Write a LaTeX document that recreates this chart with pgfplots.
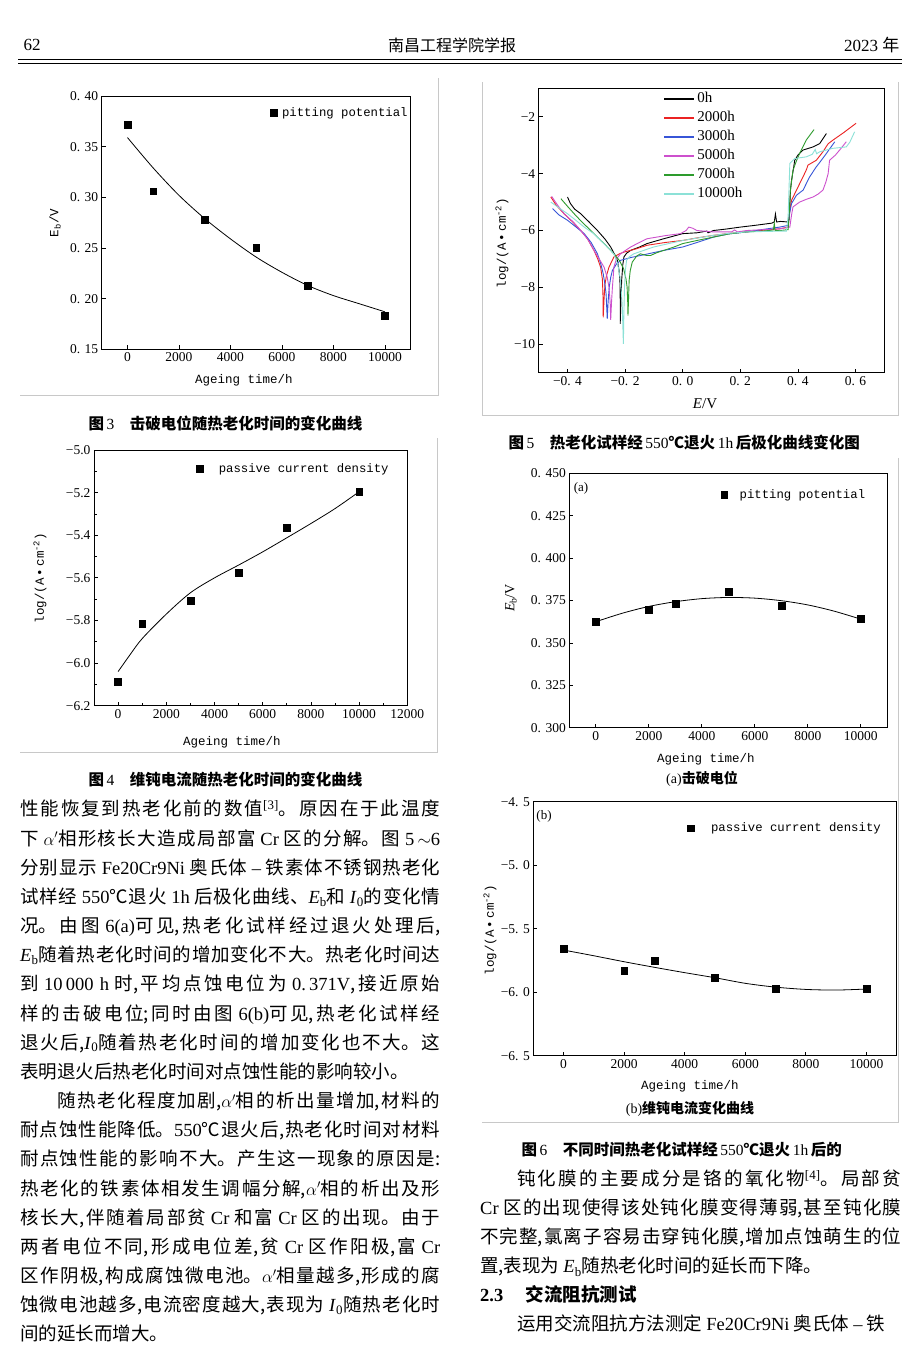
\documentclass[border=0pt]{standalone}
\usepackage{fontspec}
\usepackage{pgfplots}
\pgfplotsset{compat=1.18}
\setmainfont{Liberation Serif}
\newfontfamily\cjk{Noto Sans CJK SC}
\newfontfamily\mono{Liberation Mono}
\XeTeXlinebreaklocale "zh"
\XeTeXlinebreakskip=0pt plus 4pt
\definecolor{cred}{RGB}{235,35,35}
\definecolor{cblue}{RGB}{55,85,215}
\definecolor{cmag}{RGB}{205,80,205}
\definecolor{cgreen}{RGB}{45,155,45}
\definecolor{ccyan}{RGB}{140,225,215}
\definecolor{framegray}{RGB}{200,200,200}
\newcommand\lat[1]{{\rmfamily #1}}
\pgfplotsset{pagestyle/.style={scale only axis, anchor=south west,
  axis line style={line width=0.9pt}, tick align=inside, tick pos=left,
  major tick length=4pt, minor tick length=2.5pt, scaled ticks=false,
  every tick/.style={black, line width=0.8pt},
  tick label style={font=\rmfamily\fontsize{13.5}{13.5}\selectfont},
  /pgf/number format/assume math mode=true},
  marklegend/.style={legend style={draw=none, fill=none, anchor=west,
    font=\mono\fontsize{12.3}{12.3}\selectfont, inner sep=0pt, nodes={inner sep=2pt}},
    legend image code/.code={\draw[##1] plot coordinates {(3pt,0pt)};}}}
\begin{document}
\begin{tikzpicture}
\path[use as bounding box, fill=white] (0pt,0pt) rectangle (920pt,-1361pt);
% header
\node[anchor=west, font=\fontsize{17}{17}\selectfont] at (20pt,-45pt) {62};
\node[font=\cjk\fontsize{16}{16}\selectfont] at (452pt,-45pt) {南昌工程学院学报};
\node[anchor=east, font=\fontsize{17}{17}\selectfont] at (903pt,-45pt) {2023 {\cjk 年}};
\draw[line width=0.8pt] (18pt,-59.5pt) -- (902pt,-59.5pt);
\draw[line width=0.8pt] (18pt,-63pt) -- (902pt,-63pt);
% frames
\draw[framegray, line width=0.8pt] (438pt,-78pt) -- (438pt,-395pt) -- (20pt,-395pt);
\draw[framegray, line width=0.8pt] (437pt,-438pt) -- (437pt,-752pt) -- (20pt,-752pt);
\draw[framegray, line width=0.8pt] (482pt,-82pt) -- (482pt,-415pt) -- (898pt,-415pt) -- (898pt,-82pt);
\draw[framegray, line width=0.8pt] (898pt,-458pt) -- (898pt,-1122pt) -- (482pt,-1122pt);

% ---------- Fig 3 ----------
\begin{axis}[pagestyle, marklegend, at={(101.7pt,-349.3pt)}, width=309pt, height=253.3pt,
  xmin=-1000, xmax=11000, ymin=0.15, ymax=0.40,
  xtick={0,2000,4000,6000,8000,10000}, xticklabels={0,2000,4000,6000,8000,10000},
  ytick={0.15,0.2,0.25,0.3,0.35,0.4}, yticklabels={0. 15,0. 20,0. 25,0. 30,0. 35,0. 40},
  legend style={at={(rel axis cs:0.545,0.933)}}]
\addplot[only marks, mark=square*, mark size=3.4pt] coordinates {
(0,0.372) (1000,0.306) (3000,0.278) (5000,0.250) (7000,0.2125) (10000,0.183)};
\addlegendentry{\hspace{3pt}pitting potential}
\addplot[smooth, line width=0.8pt, forget plot] coordinates {
(0,0.359) (1000,0.329) (2000,0.302) (3000,0.279) (4000,0.259) (5000,0.241)
(6000,0.226) (7000,0.213) (8000,0.203) (9000,0.195) (10000,0.187)};
\end{axis}
\node[font=\mono\fontsize{12.5}{12.5}\selectfont] at (244pt,-380pt) {Ageing time/h};
\node[rotate=90, font=\mono\fontsize{12.5}{12.5}\selectfont] at (55pt,-223pt) {E\textsubscript{b}/V};
\node[anchor=west, font=\fontsize{15.5}{15.5}\selectfont] at (85pt,-423pt) {{\cjk\bfseries 图}\,3\hspace{1em}{\cjk\bfseries 击破电位随热老化时间的变化曲线}};

% ---------- Fig 4 ----------
\begin{axis}[pagestyle, marklegend, at={(94pt,-705.7pt)}, width=313.3pt, height=255.7pt,
  xmin=-1000, xmax=12000, ymin=-6.2, ymax=-5.0,
  xtick={0,2000,4000,6000,8000,10000,12000}, xticklabels={0,2000,4000,6000,8000,10000,12000},
  minor x tick num=1, minor y tick num=1,
  ytick={-6.2,-6.0,-5.8,-5.6,-5.4,-5.2,-5.0},
  yticklabels={\textminus6.2,\textminus6.0,\textminus5.8,\textminus5.6,\textminus5.4,\textminus5.2,\textminus5.0},
  legend style={at={(rel axis cs:0.325,0.926)}}]
\addplot[only marks, mark=square*, mark size=3.4pt] coordinates {
(0,-6.089) (1000,-5.814) (3000,-5.706) (5000,-5.576) (7000,-5.366) (10000,-5.196)};
\addlegendentry{\hspace{14pt}passive current density}
\addplot[smooth, line width=0.8pt, forget plot] coordinates {
(0,-6.04) (500,-5.96) (1000,-5.885) (2000,-5.77) (3000,-5.67) (4000,-5.6)
(5000,-5.54) (6000,-5.478) (7000,-5.412) (8000,-5.345) (9000,-5.275) (10000,-5.196)};
\end{axis}
\node[font=\mono\fontsize{12.5}{12.5}\selectfont] at (232pt,-742pt) {Ageing time/h};
\node[rotate=90, font=\mono\fontsize{12.5}{12.5}\selectfont] at (40pt,-578pt) {log/(A\,•\,cm\textsuperscript{-2})};
\node[anchor=west, font=\fontsize{15.5}{15.5}\selectfont] at (85pt,-780pt) {{\cjk\bfseries 图}\,4\hspace{1em}{\cjk\bfseries 维钝电流随热老化时间的变化曲线}};

% ---------- Fig 5 ----------
\begin{axis}[pagestyle, at={(538.7pt,-372.7pt)}, width=345.6pt, height=284.4pt,
  xmin=-0.5, xmax=0.7, ymin=-11, ymax=-1,
  xtick={-0.4,-0.2,0,0.2,0.4,0.6},
  xticklabels={\textminus0. 4,\textminus0. 2,0. 0,0. 2,0. 4,0. 6},
  ytick={-10,-8,-6,-4,-2},
  yticklabels={\textminus10,\textminus8,\textminus6,\textminus4,\textminus2},
  legend style={draw=none, fill=none, at={(rel axis cs:0.36,0.995)}, anchor=north west,
    font=\fontsize{15}{15}\selectfont, row sep=0pt, inner sep=0pt,
    nodes={inner sep=2pt, text height=11pt, text depth=4pt}, legend cell align=left},
  legend image code/.code={\draw[#1, line width=2pt] (0pt,0pt) -- (30pt,0pt);}]
\addplot[black, line width=0.9pt] coordinates {
(-0.400,-4.82)(-0.390,-5.05)(-0.375,-5.25)(-0.354,-5.41)(-0.325,-5.70)(-0.296,-6.00)
(-0.270,-6.30)(-0.250,-6.58)(-0.236,-6.85)(-0.227,-7.05)(-0.221,-7.40)(-0.218,-7.76)
(-0.217,-8.40)(-0.217,-9.28)(-0.214,-8.40)(-0.212,-7.76)(-0.208,-7.20)(-0.204,-6.93)
(-0.195,-6.80)(-0.181,-6.70)(-0.150,-6.58)(-0.124,-6.46)(-0.066,-6.29)(0.000,-6.11)
(0.050,-6.08)(0.084,-6.02)(0.088,-6.08)(0.107,-6.00)(0.150,-5.95)(0.200,-5.88)
(0.250,-5.82)(0.280,-5.78)(0.310,-5.74)(0.318,-5.70)(0.322,-5.42)(0.326,-5.70)
(0.340,-5.68)(0.365,-5.70)(0.370,-5.60)(0.374,-4.60)(0.378,-4.23)(0.385,-3.80)
(0.389,-3.53)(0.400,-3.35)(0.418,-3.17)(0.453,-3.06)(0.476,-2.94)(0.485,-2.80)(0.499,-2.59)};
\addlegendentry{0h}
\addplot[cred, line width=0.9pt] coordinates {
(-0.458,-4.82)(-0.440,-5.10)(-0.412,-5.41)(-0.380,-5.72)(-0.354,-6.00)(-0.330,-6.30)
(-0.308,-6.70)(-0.295,-7.00)(-0.285,-7.29)(-0.279,-7.70)(-0.277,-8.20)(-0.276,-9.05)
(-0.273,-8.40)(-0.270,-7.90)(-0.265,-7.60)(-0.256,-7.29)(-0.239,-6.93)(-0.220,-6.82)
(-0.204,-6.76)(-0.160,-6.64)(-0.124,-6.52)(-0.060,-6.42)(0.000,-6.35)(0.050,-6.26)
(0.107,-6.17)(0.160,-6.10)(0.222,-6.05)(0.280,-5.99)(0.337,-5.94)(0.366,-5.88)
(0.372,-5.30)(0.378,-4.94)(0.395,-4.58)(0.418,-4.11)(0.430,-3.85)(0.435,-3.70)
(0.464,-3.53)(0.487,-3.23)(0.505,-2.95)(0.522,-2.82)(0.560,-2.55)(0.602,-2.23)};
\addlegendentry{2000h}
\addplot[cblue, line width=0.9pt] coordinates {
(-0.452,-5.23)(-0.430,-5.45)(-0.400,-5.64)(-0.370,-5.88)(-0.342,-6.11)(-0.318,-6.42)
(-0.296,-6.82)(-0.285,-7.15)(-0.276,-7.52)(-0.270,-7.90)(-0.266,-8.23)(-0.262,-9.11)
(-0.259,-8.50)(-0.255,-7.99)(-0.250,-7.65)(-0.244,-7.40)(-0.230,-7.18)(-0.216,-7.05)
(-0.180,-6.95)(-0.147,-6.88)(-0.066,-6.70)(0.000,-6.58)(0.050,-6.42)(0.107,-6.23)
(0.160,-6.12)(0.222,-6.05)(0.280,-5.96)(0.337,-5.88)(0.366,-5.82)(0.372,-5.35)
(0.378,-5.05)(0.395,-4.76)(0.418,-4.58)(0.441,-4.11)(0.464,-3.76)(0.480,-3.55)
(0.499,-3.29)(0.528,-2.88)};
\addlegendentry{3000h}
\addplot[cmag, line width=0.9pt] coordinates {
(-0.455,-4.80)(-0.435,-5.10)(-0.412,-5.41)(-0.380,-5.70)(-0.354,-6.00)(-0.330,-6.30)
(-0.308,-6.70)(-0.290,-7.00)(-0.273,-7.29)(-0.262,-7.65)(-0.256,-7.99)(-0.252,-8.50)
(-0.250,-9.14)(-0.247,-8.50)(-0.244,-7.99)(-0.241,-7.60)(-0.239,-7.29)(-0.230,-7.00)
(-0.216,-6.82)(-0.181,-6.58)(-0.150,-6.42)(-0.124,-6.29)(-0.060,-6.18)(-0.008,-6.11)
(0.012,-6.00)(0.021,-5.88)(0.035,-5.92)(0.049,-6.00)(0.107,-6.05)(0.170,-6.05)
(0.180,-5.98)(0.190,-6.05)(0.222,-6.00)(0.280,-5.97)(0.337,-5.94)(0.372,-5.88)
(0.378,-5.45)(0.383,-5.17)(0.406,-5.00)(0.430,-4.90)(0.453,-4.82)(0.470,-4.72)
(0.487,-4.58)(0.497,-4.30)(0.505,-4.00)(0.510,-3.53)(0.530,-3.35)(0.545,-3.17)(0.568,-2.88)};
\addlegendentry{5000h}
\addplot[cgreen, line width=0.9pt] coordinates {
(-0.423,-4.88)(-0.400,-5.15)(-0.377,-5.41)(-0.350,-5.70)(-0.319,-6.00)(-0.295,-6.25)
(-0.273,-6.46)(-0.239,-6.82)(-0.220,-7.05)(-0.205,-7.35)(-0.197,-7.70)(-0.193,-7.99)
(-0.191,-8.50)(-0.190,-8.99)(-0.188,-8.40)(-0.186,-7.76)(-0.182,-7.40)(-0.175,-7.11)
(-0.160,-6.90)(-0.147,-6.82)(-0.125,-6.88)(-0.112,-6.88)(-0.090,-6.78)(-0.066,-6.70)
(-0.030,-6.58)(0.000,-6.46)(0.050,-6.35)(0.107,-6.23)(0.160,-6.12)(0.222,-6.05)
(0.280,-6.02)(0.315,-5.98)(0.318,-5.75)(0.321,-6.00)(0.337,-6.00)(0.366,-5.97)
(0.370,-5.40)(0.374,-4.58)(0.383,-3.88)(0.395,-3.55)(0.406,-3.29)(0.429,-2.82)(0.456,-2.45)};
\addlegendentry{7000h}
\addplot[ccyan, line width=0.9pt] coordinates {
(-0.458,-5.00)(-0.430,-5.20)(-0.400,-5.41)(-0.370,-5.65)(-0.342,-5.88)(-0.310,-6.10)
(-0.285,-6.35)(-0.260,-6.60)(-0.239,-6.82)(-0.225,-7.20)(-0.216,-7.76)(-0.210,-8.60)
(-0.206,-9.99)(-0.204,-8.80)(-0.202,-7.99)(-0.199,-7.40)(-0.195,-7.05)(-0.185,-6.92)
(-0.170,-6.82)(-0.101,-6.58)(0.000,-6.35)(0.107,-6.17)(0.160,-6.10)(0.222,-6.05)
(0.300,-6.03)(0.360,-6.02)(0.366,-5.50)(0.372,-3.64)(0.389,-3.47)(0.429,-3.41)
(0.450,-3.32)(0.460,-3.15)(0.465,-3.30)(0.476,-3.23)(0.522,-3.11)(0.568,-3.06)
(0.580,-2.90)(0.597,-2.53)};
\addlegendentry{10000h}
\end{axis}
\node[font=\fontsize{15}{15}\selectfont] at (705pt,-404pt) {\textit{E}/V};
\node[rotate=90, font=\mono\fontsize{12.5}{12.5}\selectfont] at (502pt,-243pt) {log/(A\,•\,cm\textsuperscript{-2})};
\node[anchor=west, font=\fontsize{15.5}{15.5}\selectfont] at (505pt,-443pt) {{\cjk\bfseries 图}\,5\hspace{1em}{\cjk\bfseries 热老化试样经}\,550{\cjk\bfseries ℃退火}\,1h\,{\cjk\bfseries 后极化曲线变化图}};

% ---------- Fig 6a ----------
\begin{axis}[pagestyle, marklegend, at={(569.3pt,-727.7pt)}, width=318pt, height=254.4pt,
  xmin=-1000, xmax=11000, ymin=0.3, ymax=0.45,
  xtick={0,2000,4000,6000,8000,10000}, xticklabels={0,2000,4000,6000,8000,10000},
  ytick={0.3,0.325,0.35,0.375,0.4,0.425,0.45},
  yticklabels={0. 300,0. 325,0. 350,0. 375,0. 400,0. 425,0. 450},
  legend style={at={(rel axis cs:0.476,0.915)}}]
\addplot[only marks, mark=square*, mark size=3.4pt] coordinates {
(0,0.3625) (2000,0.3696) (3000,0.3729) (5000,0.3800) (7000,0.3720) (10000,0.3643)};
\addlegendentry{\hspace{10pt}pitting potential}
\addplot[smooth, line width=0.8pt, forget plot] coordinates {
(0,0.3625) (1000,0.3675) (2000,0.3715) (3000,0.3743) (4000,0.3761) (5000,0.3768)
(6000,0.3764) (7000,0.3749) (8000,0.3724) (9000,0.3687) (10000,0.3640)};
\end{axis}
\node[font=\fontsize{13}{13}\selectfont] at (581pt,-488pt) {(a)};
\node[font=\mono\fontsize{12.5}{12.5}\selectfont] at (706pt,-759pt) {Ageing time/h};
\node[rotate=90, font=\fontsize{14}{14}\selectfont] at (511pt,-598pt) {\textit{E}\textsubscript{b}/V};
\node[font=\fontsize{14}{14}\selectfont] at (702pt,-779pt) {(a){\cjk\bfseries 击破电位}};

% ---------- Fig 6b ----------
\begin{axis}[pagestyle, marklegend, at={(533.3pt,-1055.7pt)}, width=363.4pt, height=254pt,
  xmin=-1000, xmax=11000, ymin=-6.5, ymax=-4.5,
  xtick={0,2000,4000,6000,8000,10000}, xticklabels={0,2000,4000,6000,8000,10000},
  ytick={-6.5,-6,-5.5,-5,-4.5},
  yticklabels={\textminus6. 5,\textminus6. 0,\textminus5. 5,\textminus5. 0,\textminus4. 5},
  legend style={at={(rel axis cs:0.423,0.896)}}]
\addplot[only marks, mark=square*, mark size=3.4pt] coordinates {
(0,-5.658) (2000,-5.828) (3000,-5.752) (5000,-5.886) (7000,-5.970) (10000,-5.972)};
\addlegendentry{\hspace{15pt}passive current density}
\addplot[smooth, line width=0.8pt, forget plot] coordinates {
(0,-5.668) (1000,-5.713) (2000,-5.76) (3000,-5.804) (4000,-5.846) (5000,-5.886)
(6000,-5.93) (7000,-5.96) (8000,-5.978) (9000,-5.983) (10000,-5.975)};
\end{axis}
\node[font=\fontsize{13}{13}\selectfont] at (544pt,-816pt) {(b)};
\node[font=\mono\fontsize{12.5}{12.5}\selectfont] at (690pt,-1086pt) {Ageing time/h};
\node[rotate=90, font=\mono\fontsize{12.5}{12.5}\selectfont] at (490pt,-930pt) {log/(A\,•\,cm\textsuperscript{-2})};
\node[font=\fontsize{14}{14}\selectfont] at (690pt,-1109pt) {(b){\cjk\bfseries 维钝电流变化曲线}};
\node[anchor=west, font=\fontsize{15.5}{15.5}\selectfont] at (518pt,-1150pt) {{\cjk\bfseries 图}\,6\hspace{1em}{\cjk\bfseries 不同时间热老化试样经}\,550{\cjk\bfseries ℃退火}\,1h\,{\cjk\bfseries 后的}};

% ---------- body text left ----------
\node[anchor=north west, inner sep=0pt, text width=420pt, align=justify,
  font=\cjk\fontsize{18.5}{29.17}\selectfont] at (20pt,-800pt) {\parindent=0pt\tolerance=10000
性能恢复到热老化前的数值\textsuperscript{\lat{[3]}}。原因在于此温度\linebreak
下 \lat{$\alpha'$}相形核长大造成局部富 \lat{Cr} 区的分解。图 \lat{5\,$\sim$6}\linebreak
分别显示 \lat{Fe20Cr9Ni} 奥氏体 \lat{–} 铁素体不锈钢热老化\linebreak
试样经 \lat{550}℃退火 \lat{1h} 后极化曲线、\lat{\textit{E}\textsubscript{b}}和 \lat{\textit{I}\textsubscript{0}}的变化情\linebreak
况。由图 \lat{6(a)}可见,热老化试样经过退火处理后,\linebreak
\lat{\textit{E}\textsubscript{b}}随着热老化时间的增加变化不大。热老化时间达\linebreak
到 \lat{10\,000 h} 时,平均点蚀电位为 \lat{0.\,371V},接近原始\linebreak
样的击破电位;同时由图 \lat{6(b)}可见,热老化试样经\linebreak
退火后,\lat{\textit{I}\textsubscript{0}}随着热老化时间的增加变化也不大。这\linebreak
表明退火后热老化时间对点蚀性能的影响较小。\par
\hspace*{37pt}随热老化程度加剧,\lat{$\alpha'$}相的析出量增加,材料的\linebreak
耐点蚀性能降低。\lat{550}℃退火后,热老化时间对材料\linebreak
耐点蚀性能的影响不大。产生这一现象的原因是:\linebreak
热老化的铁素体相发生调幅分解,\lat{$\alpha'$}相的析出及形\linebreak
核长大,伴随着局部贫 \lat{Cr} 和富 \lat{Cr} 区的出现。由于\linebreak
两者电位不同,形成电位差,贫 \lat{Cr} 区作阳极,富 \lat{Cr}\linebreak
区作阴极,构成腐蚀微电池。\lat{$\alpha'$}相量越多,形成的腐\linebreak
蚀微电池越多,电流密度越大,表现为 \lat{\textit{I}\textsubscript{0}}随热老化时\linebreak
间的延长而增大。\par};

% ---------- body text right ----------
\node[anchor=north west, inner sep=0pt, text width=421pt, align=justify,
  font=\cjk\fontsize{18.5}{29}\selectfont] at (480pt,-1170pt) {\parindent=0pt\tolerance=10000
\hspace*{37pt}钝化膜的主要成分是铬的氧化物\textsuperscript{\lat{[4]}}。局部贫\linebreak
\lat{Cr} 区的出现使得该处钝化膜变得薄弱,甚至钝化膜\linebreak
不完整,氯离子容易击穿钝化膜,增加点蚀萌生的位\linebreak
置,表现为 \lat{\textit{E}\textsubscript{b}}随热老化时间的延长而下降。\par
{\bfseries\lat{2.3}\hspace{1.2em}交流阻抗测试}\par
\hspace*{37pt}运用交流阻抗方法测定 \lat{Fe20Cr9Ni} 奥氏体 \lat{–} 铁\par};
\end{tikzpicture}
\end{document}
